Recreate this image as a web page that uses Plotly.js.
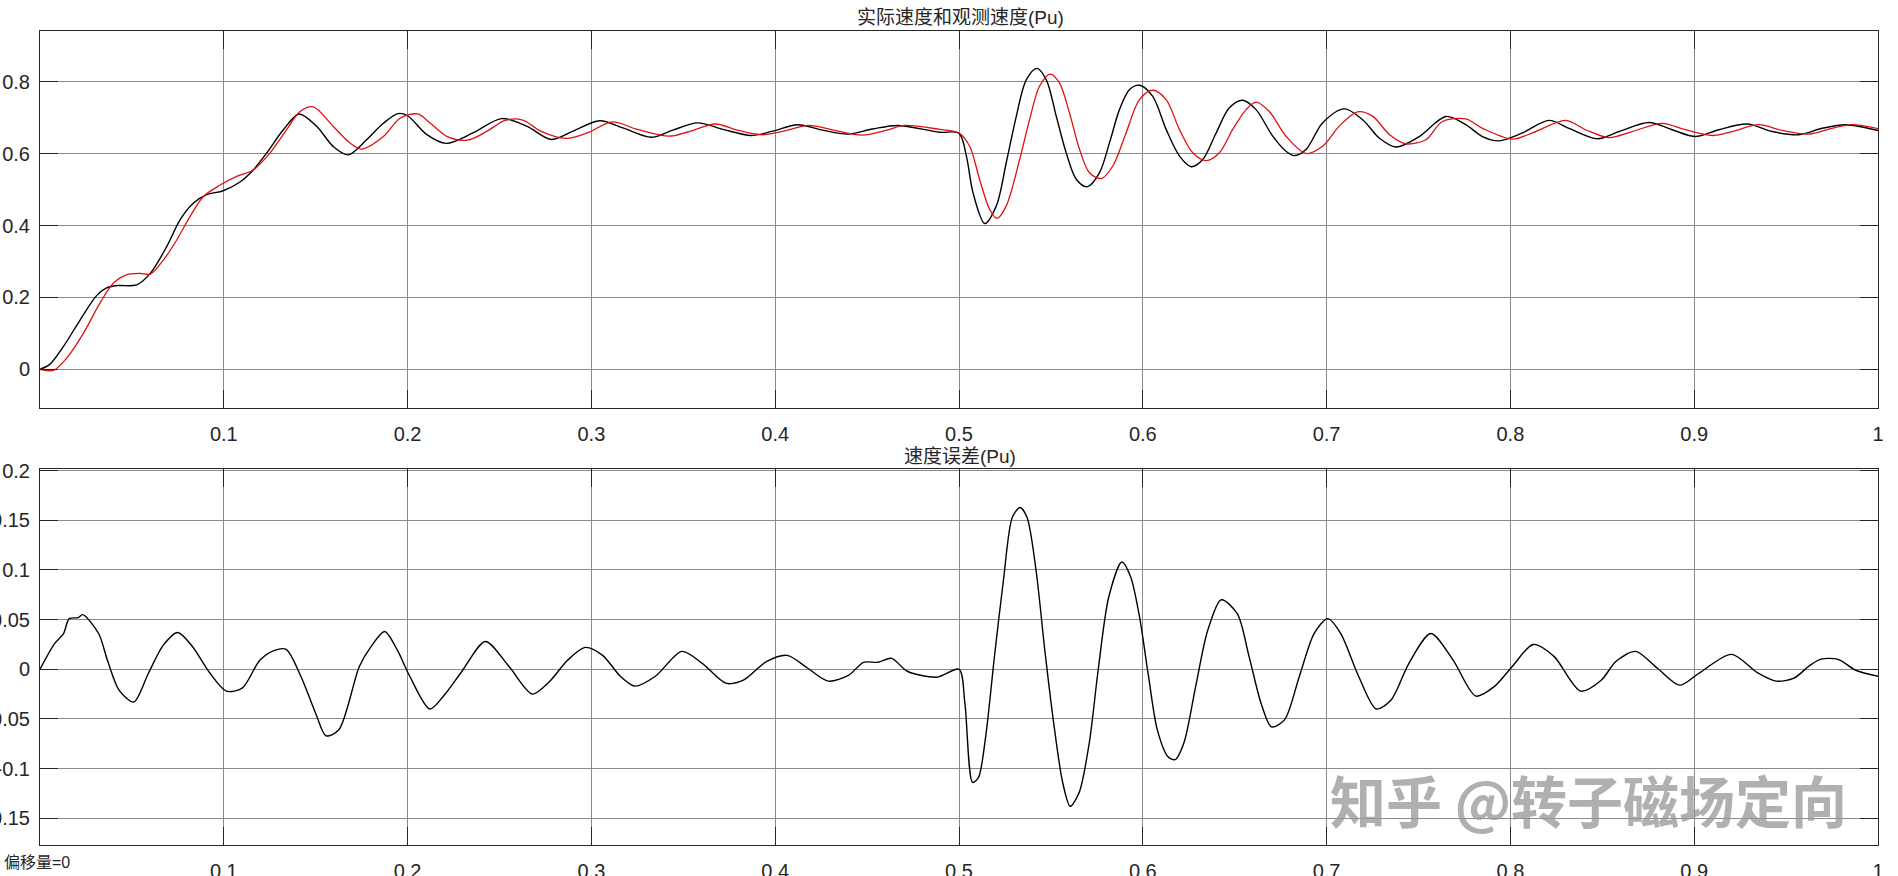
<!DOCTYPE html>
<html>
<head>
<meta charset="utf-8">
<script src="https://cdn.plot.ly/plotly-3.0.1.min.js"></script>
<style>
  html, body { margin: 0; padding: 0; background: #ffffff; }
  #chart { width: 1898px; height: 876px; }
</style>
</head>
<body>
<div id="chart"></div>
<script>
// ---- Data (time in s, values in Pu) ----
const topTitle = '实际速度和观测速度(Pu)';
const bottomTitle = '速度误差(Pu)';
const offsetLabel = '偏移量=0';
const watermarkText = '知乎 @转子磁场定向';

const xTickVals = [0.1, 0.2, 0.3, 0.4, 0.5, 0.6, 0.7, 0.8, 0.9, 1];
const xTickText = ['0.1', '0.2', '0.3', '0.4', '0.5', '0.6', '0.7', '0.8', '0.9', '1'];
const topYTickVals = [0, 0.2, 0.4, 0.6, 0.8];
const topYTickText = ['0', '0.2', '0.4', '0.6', '0.8'];
const botYTickVals = [-0.15, -0.1, -0.05, 0, 0.05, 0.1, 0.15, 0.2];
const botYTickText = ['-0.15', '-0.1', '-0.05', '0', '0.05', '0.1', '0.15', '0.2'];

// actual speed (black) : [time, value]
const actualSpeed = [
  [0,0],[0.005,0.012],[0.0127,0.063],[0.0218,0.137],[0.0308,0.205],[0.036,0.226],[0.042,0.233],[0.0526,0.235],
  [0.06,0.267],[0.069,0.342],[0.0762,0.416],[0.0834,0.462],[0.0907,0.486],[0.0997,0.497],
  [0.109,0.522],[0.116,0.555],[0.1233,0.602],[0.1324,0.667],[0.141,0.711],[0.1506,0.676],
  [0.1596,0.620],[0.1677,0.597],[0.1777,0.639],[0.1868,0.685],[0.1948,0.712],[0.2,0.706],
  [0.2103,0.654],[0.221,0.629],[0.2355,0.658],[0.2511,0.698],[0.2647,0.677],[0.2783,0.640],
  [0.29,0.663],[0.3045,0.692],[0.3171,0.672],[0.3326,0.646],[0.3443,0.666],[0.3579,0.686],
  [0.3715,0.668],[0.387,0.651],[0.3986,0.663],[0.4122,0.681],[0.4258,0.666],[0.4394,0.655],
  [0.453,0.669],[0.4666,0.679],[0.4895,0.660],[0.5,0.657],[0.504,0.594],[0.5076,0.492],
  [0.514,0.406],[0.5203,0.455],[0.5257,0.575],[0.5312,0.705],[0.5366,0.806],[0.5424,0.838],
  [0.5475,0.806],[0.5529,0.705],[0.5583,0.603],[0.5638,0.529],[0.5697,0.508],[0.5764,0.547],
  [0.5819,0.631],[0.5873,0.723],[0.5928,0.779],[0.5982,0.791],[0.6054,0.760],[0.6127,0.668],
  [0.6199,0.594],[0.6263,0.564],[0.6326,0.584],[0.6399,0.658],[0.6471,0.728],[0.6543,0.749],
  [0.6616,0.723],[0.6707,0.649],[0.6779,0.607],[0.6824,0.595],[0.6888,0.612],[0.6978,0.686],
  [0.7096,0.725],[0.7196,0.695],[0.7286,0.644],[0.7377,0.619],[0.7504,0.648],[0.7649,0.704],
  [0.7757,0.681],[0.7848,0.648],[0.7938,0.636],[0.8065,0.658],[0.821,0.693],[0.8319,0.671],
  [0.8473,0.642],[0.8591,0.662],[0.8754,0.687],[0.888,0.667],[0.9007,0.648],[0.9134,0.667],
  [0.9288,0.683],[0.9424,0.662],[0.9569,0.653],[0.9696,0.671],[0.9822,0.681],[1.0,0.665]
];

// observed speed (red) : [time, value]
const observedSpeed = [
  [0,0],[0.0073,-0.003],[0.0145,0.031],[0.0236,0.100],[0.0326,0.184],[0.04,0.240],[0.047,0.263],
  [0.0544,0.267],[0.06,0.265],[0.0671,0.304],[0.0744,0.360],[0.0816,0.425],[0.0889,0.481],
  [0.098,0.513],[0.107,0.537],[0.116,0.555],[0.1251,0.602],[0.1342,0.667],[0.1415,0.718],
  [0.1487,0.731],[0.1596,0.676],[0.1687,0.630],[0.175,0.613],[0.1868,0.648],[0.1959,0.699],
  [0.2054,0.711],[0.2122,0.686],[0.2219,0.647],[0.2326,0.638],[0.2433,0.663],[0.253,0.693],
  [0.2627,0.694],[0.2724,0.663],[0.286,0.643],[0.2977,0.658],[0.3113,0.689],[0.3249,0.668],
  [0.3423,0.649],[0.352,0.660],[0.3676,0.683],[0.3792,0.666],[0.3928,0.653],[0.4045,0.663],
  [0.4181,0.679],[0.4317,0.666],[0.4472,0.652],[0.4608,0.666],[0.4705,0.679],[0.4895,0.668],
  [0.5,0.658],[0.5058,0.621],[0.5112,0.529],[0.5167,0.445],[0.5207,0.420],[0.5257,0.455],
  [0.533,0.584],[0.5384,0.695],[0.5438,0.788],[0.5496,0.822],[0.5547,0.797],[0.5601,0.714],
  [0.5656,0.612],[0.571,0.547],[0.5774,0.531],[0.5837,0.566],[0.5909,0.658],[0.5982,0.751],
  [0.6054,0.777],[0.6127,0.751],[0.6199,0.668],[0.6272,0.603],[0.6344,0.581],[0.6417,0.603],
  [0.6489,0.668],[0.6562,0.723],[0.6616,0.744],[0.6688,0.718],[0.6779,0.649],[0.6888,0.601],
  [0.6978,0.621],[0.7069,0.677],[0.7168,0.717],[0.725,0.705],[0.7341,0.654],[0.7431,0.628],
  [0.754,0.639],[0.763,0.690],[0.7757,0.697],[0.7848,0.671],[0.8011,0.641],[0.812,0.658],
  [0.8301,0.693],[0.8409,0.667],[0.8536,0.645],[0.8663,0.662],[0.8826,0.685],[0.8953,0.667],
  [0.9098,0.651],[0.9207,0.662],[0.9351,0.681],[0.9478,0.665],[0.9623,0.655],[0.975,0.671],
  [0.9859,0.681],[1.0,0.670]
];

// speed error : [time, value]
const speedError = [
  [0,0],[0.008,0.026],[0.0128,0.036],[0.0159,0.051],[0.0207,0.052],[0.0233,0.055],[0.0319,0.036],
  [0.0367,0.009],[0.043,-0.021],[0.051,-0.033],[0.059,-0.004],[0.067,0.024],[0.0749,0.037],
  [0.0829,0.023],[0.0925,-0.004],[0.1014,-0.022],[0.11,-0.019],[0.1196,0.009],[0.1276,0.019],
  [0.1339,0.020],[0.1419,-0.007],[0.1499,-0.044],[0.1556,-0.067],[0.1626,-0.061],[0.1738,0.003],
  [0.1802,0.023],[0.1875,0.038],[0.1945,0.019],[0.2009,-0.006],[0.2121,-0.040],[0.22,-0.026],
  [0.2296,-0.002],[0.2423,0.028],[0.2551,0.003],[0.2679,-0.025],[0.2774,-0.012],[0.287,0.009],
  [0.2966,0.022],[0.3061,0.014],[0.3157,-0.007],[0.3237,-0.017],[0.3348,-0.007],[0.3492,0.018],
  [0.3603,0.006],[0.3731,-0.014],[0.3827,-0.011],[0.3954,0.008],[0.4066,0.014],[0.4177,0.001],
  [0.4289,-0.012],[0.44,-0.006],[0.448,0.007],[0.456,0.007],[0.4633,0.011],[0.4719,-0.002],
  [0.4879,-0.008],[0.5,0.0],[0.5032,-0.034],[0.5074,-0.114],[0.5106,-0.109],[0.5145,-0.068],
  [0.5193,0.013],[0.5242,0.090],[0.529,0.153],[0.5332,0.163],[0.537,0.153],[0.5419,0.100],
  [0.5467,0.019],[0.5515,-0.054],[0.5564,-0.114],[0.5605,-0.138],[0.5654,-0.124],[0.5709,-0.074],
  [0.5757,-0.001],[0.5815,0.073],[0.5886,0.108],[0.5934,0.093],[0.5982,0.053],[0.6031,-0.007],
  [0.6079,-0.061],[0.6137,-0.088],[0.6176,-0.091],[0.6224,-0.074],[0.6288,-0.017],[0.6353,0.039],
  [0.6427,0.070],[0.6514,0.056],[0.6578,0.013],[0.6643,-0.034],[0.67,-0.058],[0.6771,-0.051],
  [0.6852,-0.007],[0.6932,0.036],[0.7006,0.051],[0.7077,0.036],[0.7174,-0.007],[0.727,-0.040],
  [0.7351,-0.031],[0.7448,0.006],[0.7567,0.036],[0.7689,0.009],[0.7812,-0.027],[0.7915,-0.017],
  [0.8011,0.003],[0.8124,0.025],[0.8237,0.013],[0.8382,-0.022],[0.8494,-0.011],[0.8575,0.008],
  [0.8681,0.018],[0.88,0.001],[0.892,-0.016],[0.9026,-0.004],[0.9203,0.015],[0.9348,-0.004],
  [0.9446,-0.012],[0.9543,-0.009],[0.9623,0.003],[0.9686,0.010],[0.9783,0.010],[0.9879,-0.001],
  [1.0,-0.007]
];

// ---- Figure ----
const W = 1898, H = 876;
const px = v => v / W;            // horizontal pixel -> paper fraction
const py = v => 1 - v / H;        // vertical pixel (from top) -> paper fraction

const FONT = '"Liberation Sans", Arial, "Noto Sans CJK SC", sans-serif';
const TXT = '#262626';
const GRID = '#8a8a8a';
const AXIS = '#262626';

const traces = [
  { x: actualSpeed.map(p => p[0]), y: actualSpeed.map(p => p[1]), xaxis: 'x', yaxis: 'y',
    type: 'scatter', mode: 'lines', name: '实际速度',
    line: { color: '#000000', width: 1.4, shape: 'spline', smoothing: 0.9 } },
  { x: observedSpeed.map(p => p[0]), y: observedSpeed.map(p => p[1]), xaxis: 'x', yaxis: 'y',
    type: 'scatter', mode: 'lines', name: '观测速度',
    line: { color: '#e01010', width: 1.3, shape: 'spline', smoothing: 0.9 } },
  { x: speedError.map(p => p[0]), y: speedError.map(p => p[1]), xaxis: 'x2', yaxis: 'y2',
    type: 'scatter', mode: 'lines', name: '速度误差',
    line: { color: '#000000', width: 1.4, shape: 'spline', smoothing: 0.8 } }
];

function xAxis(anchor) {
  return {
    domain: [px(40), px(1878)], range: [0, 1], anchor: anchor,
    tickmode: 'array', tickvals: xTickVals, ticktext: xTickText,
    ticks: 'inside', ticklen: 18, tickwidth: 1, tickcolor: AXIS,
    showline: true, linecolor: AXIS, linewidth: 1, mirror: 'ticks',
    showgrid: true, gridcolor: GRID, gridwidth: 1, zeroline: false,
    tickfont: { family: FONT, size: 20, color: TXT },
    ticklabelstandoff: 8, fixedrange: true
  };
}
function yAxis(domain, range, vals, text, anchor) {
  return {
    domain: domain, range: range, anchor: anchor,
    tickmode: 'array', tickvals: vals, ticktext: text,
    ticks: 'inside', ticklen: 18, tickwidth: 1, tickcolor: AXIS,
    showline: true, linecolor: AXIS, linewidth: 1, mirror: 'ticks',
    showgrid: true, gridcolor: GRID, gridwidth: 1, zeroline: false,
    tickfont: { family: FONT, size: 20, color: TXT },
    ticklabelstandoff: 5, fixedrange: true
  };
}

const layout = {
  width: W, height: H,
  margin: { l: 0, r: 0, t: 0, b: 0, pad: 0 },
  paper_bgcolor: '#ffffff', plot_bgcolor: '#ffffff',
  showlegend: false,
  xaxis: xAxis('y'),
  yaxis: yAxis([py(408), py(31)], [-0.108, 0.942], topYTickVals, topYTickText, 'x'),
  xaxis2: xAxis('y2'),
  yaxis2: yAxis([py(845), py(469.3)], [-0.177, 0.2014], botYTickVals, botYTickText, 'x2'),
  annotations: [
    { text: topTitle, xref: 'paper', yref: 'paper', x: px(960), y: py(17),
      xanchor: 'center', yanchor: 'middle', showarrow: false,
      font: { family: FONT, size: 19, color: TXT } },
    { text: bottomTitle, xref: 'paper', yref: 'paper', x: px(960), y: py(456),
      xanchor: 'center', yanchor: 'middle', showarrow: false,
      font: { family: FONT, size: 19, color: TXT } },
    { text: offsetLabel, xref: 'paper', yref: 'paper', x: px(2), y: py(862),
      xanchor: 'left', yanchor: 'middle', showarrow: false,
      font: { family: FONT, size: 16, color: TXT } },
    { text: watermarkText, xref: 'paper', yref: 'paper', x: px(1588), y: py(798),
      xanchor: 'center', yanchor: 'middle', showarrow: false,
      font: { family: '"Noto Sans CJK SC", sans-serif', size: 56, color: 'rgba(150,150,150,0.75)', weight: 700 } }
  ]
};

Plotly.newPlot('chart', traces, layout, { staticPlot: true, displayModeBar: false });
</script>
</body>
</html>
